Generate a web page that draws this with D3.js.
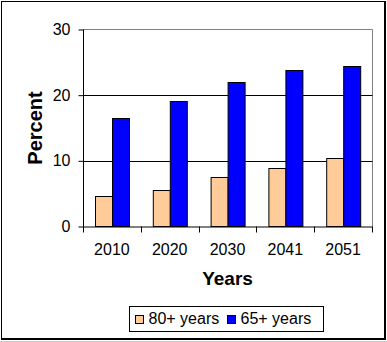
<!DOCTYPE html>
<html><head><meta charset="utf-8">
<script src="https://cdn.jsdelivr.net/npm/d3@7/dist/d3.min.js"></script>
<style>
html,body{margin:0;padding:0;background:#fff;}
svg{display:block;font-family:"Liberation Sans",Arial,sans-serif;}
</style></head>
<body>
<svg id="chart" width="387" height="342"></svg>
<script>
const categories = ["2010","2020","2030","2041","2051"];
const seriesNames = ["80+ years","65+ years"];
const values80 = [4.6, 5.5, 7.5, 8.9, 10.4];
const values65 = [16.5, 19.1, 22.0, 23.8, 24.4];
const yTicks = [0,10,20,30];
const seriesColors = ["#FFCC99","#0000FF"];

const svg = d3.select("#chart");
const L = 83, R = 372, T = 29.5, B = 226.5;

// outer frame
svg.append("line").attr("x1",0).attr("x2",387).attr("y1",341.5).attr("y2",341.5).attr("stroke","#c8c8c8");
svg.append("rect").attr("x",1.5).attr("y",1.5).attr("width",383).attr("height",337)
  .attr("fill","#fff").attr("stroke","#000").attr("stroke-width",1);
svg.append("line").attr("x1",385.5).attr("x2",385.5).attr("y1",1).attr("y2",340).attr("stroke","#000");
svg.append("line").attr("x1",1).attr("x2",386).attr("y1",339.5).attr("y2",339.5).attr("stroke","#000");

const y = d3.scaleLinear().domain([0,30]).range([B,T]);
const x = d3.scaleBand().domain(categories).range([L,R]).padding(0);
const step = x.step();
const barW = step/3.5;
const x1 = d3.scaleBand().domain(seriesNames).range([0.75*barW, 2.75*barW]).padding(0);

// plot border (gray top/right)
svg.append("path").attr("d",`M${L},${T}H${R+0.5}V${B}`).attr("fill","none").attr("stroke","#808080");

// gridlines
svg.append("g").selectAll("line").data(yTicks.filter(d=>d>0 && d<30)).join("line")
  .attr("x1",L).attr("x2",R+0.5).attr("y1",d=>Math.round(y(d))+0.5).attr("y2",d=>Math.round(y(d))+0.5)
  .attr("stroke","#000");

// bars
const data = categories.map((c,i)=>({c, vals:[values80[i], values65[i]]}));
const g = svg.append("g").selectAll("g").data(data).join("g")
  .attr("transform",d=>`translate(${x(d.c)},0)`);
g.selectAll("rect").data(d=>d.vals.map((v,j)=>({s:seriesNames[j],v,j}))).join("rect")
  .attr("x",d=>Math.round(x1(d.s))+0.5)
  .attr("y",d=>Math.round(y(d.v))+0.5)
  .attr("width",d=>Math.round(x1.bandwidth()))
  .attr("height",d=>B-Math.round(y(d.v))-0.5)
  .attr("fill",d=>seriesColors[d.j]).attr("stroke","#000").attr("stroke-width",1);

// y axis
const yAxis = d3.axisLeft(y).tickValues(yTicks).tickSize(5).tickPadding(8);
const yg = svg.append("g").attr("transform",`translate(${L+0.5},0)`).call(yAxis);
yg.select(".domain").attr("d",`M-0,${T}V${B}`).attr("stroke","#000");
yg.selectAll(".tick text").attr("font-size",16).attr("fill","#000").attr("font-family","Liberation Sans,Arial,sans-serif");
yg.selectAll(".tick line").attr("stroke","#000");

// x axis
const xAxis = d3.axisBottom(x).tickSize(0).tickPadding(0);
const xg = svg.append("g").attr("transform",`translate(0,${B})`).call(xAxis);
xg.select(".domain").remove();
xg.append("line").attr("x1",L).attr("x2",R+0.5).attr("y1",0.5).attr("y2",0.5).attr("stroke","#000");
xg.selectAll(".tick text").attr("font-size",16).attr("fill","#000").attr("dy",null).attr("y",28.5)
  .attr("font-family","Liberation Sans,Arial,sans-serif");
const bounds = categories.map(c=>x(c)).concat([x(categories[categories.length-1])+step]);
xg.selectAll(".sep").data(bounds).join("line").attr("class","sep")
  .attr("x1",d=>Math.round(d)+0.5).attr("x2",d=>Math.round(d)+0.5).attr("y1",0).attr("y2",6).attr("stroke","#000");

// axis titles
svg.append("text").attr("x",(L+R)/2).attr("y",285).attr("text-anchor","middle")
  .attr("font-size",19).attr("font-weight","bold").text("Years");
svg.append("text").attr("transform",`translate(41.5,${(T+B)/2}) rotate(-90)`).attr("text-anchor","middle")
  .attr("font-size",20).attr("font-weight","bold").text("Percent");

// legend
const lg = svg.append("g");
lg.append("rect").attr("x",129.5).attr("y",306.5).attr("width",194).attr("height",25)
  .attr("fill","#fff").attr("stroke","#000");
const legX = [135.5, 227.5];
seriesNames.forEach((s,i)=>{
  lg.append("rect").attr("x",legX[i]).attr("y",315.5).attr("width",8).attr("height",8)
    .attr("fill",seriesColors[i]).attr("stroke","#000");
  lg.append("text").attr("x",legX[i]+13).attr("y",324).attr("font-size",16).text(s);
});
</script>
</body></html>
